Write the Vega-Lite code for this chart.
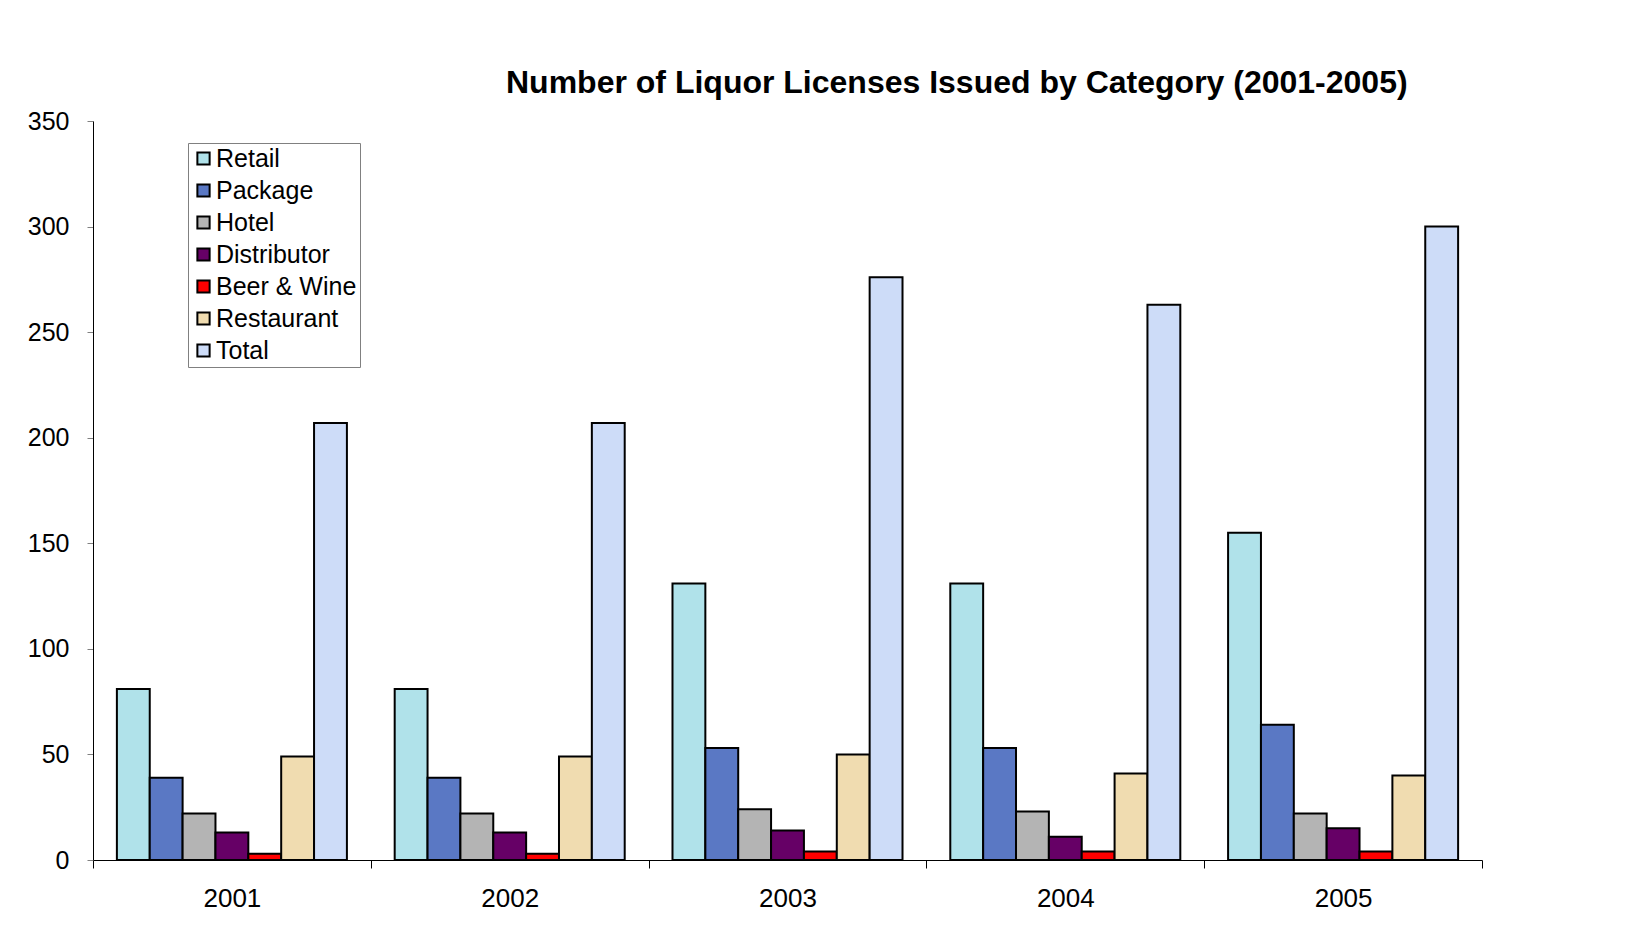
{
  "$schema": "https://vega.github.io/schema/vega-lite/v6.json",
  "width": 1389,
  "height": 739,
  "autosize": {"type": "none"},
  "padding": {"left": 93, "top": 121, "right": 165, "bottom": 68},
  "background": "white",
  "title": {
    "text": "Number of Liquor Licenses Issued by Category (2001-2005)",
    "font": "Liberation Sans",
    "fontSize": 32,
    "fontWeight": "bold",
    "color": "black",
    "anchor": "start",
    "frame": "group",
    "dx": 413,
    "baseline": "alphabetic",
    "offset": -16
  },
  "data": {
    "values": [
      {"year": "2001", "category": "Retail", "count": 81},
      {"year": "2001", "category": "Package", "count": 39},
      {"year": "2001", "category": "Hotel", "count": 22},
      {"year": "2001", "category": "Distributor", "count": 13},
      {"year": "2001", "category": "Beer & Wine", "count": 3},
      {"year": "2001", "category": "Restaurant", "count": 49},
      {"year": "2001", "category": "Total", "count": 207},
      {"year": "2002", "category": "Retail", "count": 81},
      {"year": "2002", "category": "Package", "count": 39},
      {"year": "2002", "category": "Hotel", "count": 22},
      {"year": "2002", "category": "Distributor", "count": 13},
      {"year": "2002", "category": "Beer & Wine", "count": 3},
      {"year": "2002", "category": "Restaurant", "count": 49},
      {"year": "2002", "category": "Total", "count": 207},
      {"year": "2003", "category": "Retail", "count": 131},
      {"year": "2003", "category": "Package", "count": 53},
      {"year": "2003", "category": "Hotel", "count": 24},
      {"year": "2003", "category": "Distributor", "count": 14},
      {"year": "2003", "category": "Beer & Wine", "count": 4},
      {"year": "2003", "category": "Restaurant", "count": 50},
      {"year": "2003", "category": "Total", "count": 276},
      {"year": "2004", "category": "Retail", "count": 131},
      {"year": "2004", "category": "Package", "count": 53},
      {"year": "2004", "category": "Hotel", "count": 23},
      {"year": "2004", "category": "Distributor", "count": 11},
      {"year": "2004", "category": "Beer & Wine", "count": 4},
      {"year": "2004", "category": "Restaurant", "count": 41},
      {"year": "2004", "category": "Total", "count": 263},
      {"year": "2005", "category": "Retail", "count": 155},
      {"year": "2005", "category": "Package", "count": 64},
      {"year": "2005", "category": "Hotel", "count": 22},
      {"year": "2005", "category": "Distributor", "count": 15},
      {"year": "2005", "category": "Beer & Wine", "count": 4},
      {"year": "2005", "category": "Restaurant", "count": 40},
      {"year": "2005", "category": "Total", "count": 300}
    ]
  },
  "mark": {"type": "bar", "stroke": "black", "strokeWidth": 2},
  "encoding": {
    "x": {
      "field": "year",
      "type": "nominal",
      "scale": {"paddingInner": 0, "paddingOuter": 0},
      "axis": {
        "title": null,
        "labelAngle": 0,
        "tickBand": "extent",
        "tickSize": 8,
        "tickColor": "black",
        "domainColor": "black",
        "labelFont": "Liberation Sans",
        "labelFontSize": 26,
        "labelColor": "black",
        "labelPadding": 17
      }
    },
    "xOffset": {
      "field": "category",
      "sort": ["Retail", "Package", "Hotel", "Distributor", "Beer & Wine", "Restaurant", "Total"],
      "scale": {"paddingInner": 0, "paddingOuter": 0.727}
    },
    "y": {
      "field": "count",
      "type": "quantitative",
      "scale": {"domain": [0, 350], "nice": false},
      "axis": {
        "title": null,
        "values": [0, 50, 100, 150, 200, 250, 300, 350],
        "grid": false,
        "tickSize": 6,
        "tickColor": "#808080",
        "domainColor": "black",
        "labelFont": "Liberation Sans",
        "labelFontSize": 25,
        "labelColor": "black",
        "labelPadding": 18
      }
    },
    "fill": {
      "field": "category",
      "type": "nominal",
      "sort": ["Retail", "Package", "Hotel", "Distributor", "Beer & Wine", "Restaurant", "Total"],
      "scale": {
        "domain": ["Retail", "Package", "Hotel", "Distributor", "Beer & Wine", "Restaurant", "Total"],
        "range": ["#b0e2ea", "#5a78c4", "#b4b4b4", "#660066", "#ff0000", "#f0dcb0", "#cddcf8"]
      },
      "legend": {
        "title": null,
        "orient": "none",
        "legendX": 95,
        "legendY": 22,
        "strokeColor": "#808080",
        "padding": 3,
        "rowPadding": 6,
        "symbolType": "square",
        "symbolSize": 150,
        "symbolStrokeColor": "black",
        "symbolStrokeWidth": 2,
        "symbolOpacity": 1,
        "labelFont": "Liberation Sans",
        "labelFontSize": 25,
        "labelColor": "black",
        "labelOffset": 0,
        "fillColor": "white"
      }
    }
  },
  "config": {
    "view": {"stroke": null},
    "axis": {"ticks": true}
  }
}
